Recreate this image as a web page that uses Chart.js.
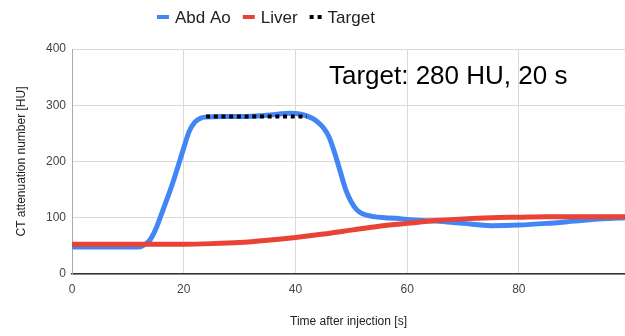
<!DOCTYPE html>
<html lang="en">
  <head>
    <meta charset="UTF-8" />
    <title>Abd Ao / Liver enhancement</title>
    <script src="https://cdn.jsdelivr.net/npm/chart.js@4.4.1/dist/chart.umd.min.js"></script>
    <style>
      html, body { margin: 0; padding: 0; background: #fff; }
      .wrap { width: 625px; height: 336px; }
    </style>
  </head>
  <body>
    <div class="wrap"><canvas id="mychart"></canvas></div>
    <script>
      // data
      const aortaTime = [0, 5, 10, 12, 13, 14, 15, 16, 17, 18, 19, 20, 21, 22, 23, 24, 27, 30, 33, 36, 39, 41, 43, 44, 45, 46, 47, 48, 49, 50, 51, 52, 54, 56, 58, 60, 65, 70, 75, 80, 85, 90, 95, 99];
      const aortaHU = [48, 48, 48, 48, 52, 61, 80, 106, 133, 161, 192, 224, 254, 270, 277, 279, 280, 280, 281, 283, 286, 284, 277, 270, 260, 244, 216, 183, 150, 128, 114, 107, 102, 100, 99, 97, 94, 90, 86, 87, 90, 94, 98, 100];
      const liverTime = [0, 10, 20, 25, 30, 35, 40, 45, 50, 55, 60, 65, 70, 75, 80, 85, 90, 95, 99];
      const liverHU = [53, 53, 53, 54, 56, 60, 65, 71, 78, 85, 90, 95, 98, 100, 101, 102, 102, 102, 102];
      const targetTime = [24, 42];
      const targetHU = [280, 280];
      const seriesNames = ["Abd Ao", "Liver", "Target"];
      const seriesColors = ["#4285F4", "#EA4335", "#000"];
      const noteText = "Target: 280 HU, 20 s";

      const FONT = "'Liberation Sans', Arial, sans-serif";

      function pts(xs, ys) {
        return xs.map((x, i) => ({ x: x, y: ys[i] }));
      }

      // legend row and the note, drawn by hand so the legend sits where the original has it
      const textPlugin = {
        id: "texts",
        afterDraw(chart) {
          const ctx = chart.ctx;
          ctx.save();
          // legend
          ctx.font = "17px " + FONT;
          ctx.textBaseline = "middle";
          ctx.textAlign = "left";
          let x = 157;
          const y = 17;
          seriesNames.forEach((name, i) => {
            ctx.fillStyle = seriesColors[i];
            if (i < 2) {
              ctx.fillRect(x, y - 2, 12, 4);
            } else {
              ctx.fillRect(x, y - 2, 4, 4);
              ctx.fillRect(x + 8, y - 2, 4, 4);
            }
            x += 18;
            ctx.fillStyle = "#222";
            ctx.fillText(name, x, y + 1);
            x += ctx.measureText(name).width + 12;
          });
          // note
          ctx.font = "26px " + FONT;
          ctx.fillStyle = "#000";
          ctx.fillText(noteText, chart.scales.x.getPixelForValue(46), chart.scales.y.getPixelForValue(350));
          ctx.restore();
        },
      };

      new Chart(document.getElementById("mychart"), {
        type: "line",
        data: {
          datasets: [
            {
              label: seriesNames[0],
              data: pts(aortaTime, aortaHU),
              borderColor: seriesColors[0],
              borderWidth: 5,
              pointRadius: 0,
              cubicInterpolationMode: "monotone",
              order: 2,
            },
            {
              label: seriesNames[1],
              data: pts(liverTime, liverHU),
              borderColor: seriesColors[1],
              borderWidth: 5,
              pointRadius: 0,
              cubicInterpolationMode: "monotone",
              order: 1,
            },
            {
              label: seriesNames[2],
              data: pts(targetTime, targetHU),
              borderColor: seriesColors[2],
              borderWidth: 4,
              borderDash: [4, 3.7],
              borderCapStyle: "butt",
              pointRadius: 0,
              order: 0,
            },
          ],
        },
        options: {
          responsive: true,
          maintainAspectRatio: false,
          animation: false,
          layout: { padding: { top: 49, right: 0, left: 0, bottom: 0 } },
          plugins: {
            tooltip: { enabled: false },
            legend: { display: false },
          },
          scales: {
            x: {
              type: "linear",
              min: 0,
              max: 99,
              ticks: {
                stepSize: 20,
                includeBounds: false,
                color: "#444",
                padding: 8,
                font: { family: FONT, size: 12 },
              },
              grid: { color: "#d9d9d9", drawTicks: false },
              border: { color: "#333", width: 1.5 },
              title: {
                display: true,
                text: "Time after injection [s]",
                color: "#222",
                font: { family: FONT, size: 12 },
                padding: { top: 0, bottom: 7 },
              },
              afterFit(scale) {
                scale.height = 62;
              },
            },
            y: {
              min: 0,
              max: 400,
              ticks: {
                stepSize: 100,
                color: "#444",
                padding: 6,
                font: { family: FONT, size: 12 },
              },
              grid: { color: "#d9d9d9", drawTicks: false },
              border: { color: "#aaa", width: 1 },
              title: {
                display: true,
                text: "CT attenuation number [HU]",
                color: "#222",
                font: { family: FONT, size: 12 },
                padding: { top: 14, bottom: 0 },
              },
              afterFit(scale) {
                scale.width = 72;
              },
            },
          },
        },
        plugins: [textPlugin],
      });
    </script>
  </body>
</html>
